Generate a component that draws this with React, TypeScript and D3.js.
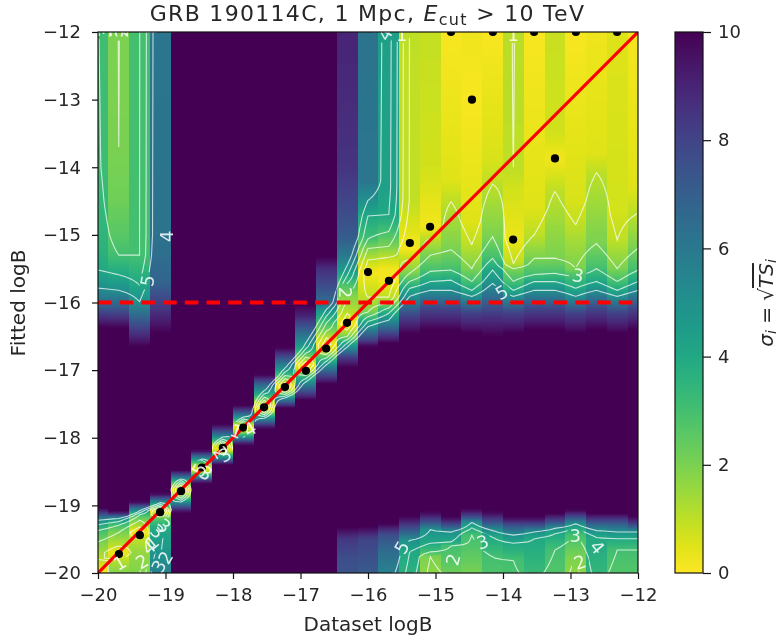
import React, { useEffect, useRef } from "react";
import * as d3 from "d3";

type Knot = [number, number];

// sigma along Fitted logB for each Dataset logB column
const col00: Knot[] = [[-12,3.05],[-14,3.15],[-15,3.5],[-15.25,3.6],[-15.52,4],[-15.79,5],[-16,6.5],[-16.2,8.5],[-16.37,10],[-19.05,10],[-19.22,5],[-19.29,4],[-19.37,3],[-19.54,2],[-19.8,1],[-20,0.1]];
const col01: Knot[] = [[-12,1.97],[-13.7,2],[-14.5,2.2],[-15,2.6],[-15.3,3],[-15.59,4],[-15.82,5],[-16.05,7],[-16.37,10],[-19.1,10],[-19.19,5],[-19.24,4],[-19.29,3],[-19.4,2],[-19.6,1],[-19.7,0.15],[-19.8,1],[-19.95,1.7],[-20,1.8]];
const col02: Knot[] = [[-12,2.97],[-15.3,3],[-15.74,4],[-15.99,5],[-16.3,7.5],[-16.65,10],[-18.95,10],[-19.05,6],[-19.08,5],[-19.11,4],[-19.14,3],[-19.22,2],[-19.32,1],[-19.4,0.15],[-19.5,1],[-19.7,1.6],[-20,1.9]];
const col03: Knot[] = [[-12,6.1],[-15,6.2],[-15.7,6.8],[-16.1,8.5],[-16.45,10],[-18.83,10],[-18.92,6.5],[-18.96,5],[-18.99,4],[-19.01,3],[-19.04,2],[-19.05,1],[-19.08,0.15],[-19.13,1],[-19.17,2],[-19.22,3],[-19.35,4],[-19.7,4.8],[-20,5.6]];
const col04: Knot[] = [[-18.48,10],[-18.58,6.5],[-18.63,4],[-18.68,2.5],[-18.73,1],[-18.77,0.15],[-18.82,1],[-18.88,2.5],[-18.95,5],[-19.02,7.5],[-19.1,10]];
const col05: Knot[] = [[-18.19,10],[-18.29,6],[-18.35,3.5],[-18.42,1.2],[-18.46,0.15],[-18.5,1],[-18.54,3],[-18.6,6.5],[-18.66,10]];
const col06: Knot[] = [[-17.81,10],[-17.93,7],[-18.02,4],[-18.1,1.2],[-18.15,0.15],[-18.2,1],[-18.26,3.5],[-18.33,7],[-18.4,10]];
const col07: Knot[] = [[-17.53,10],[-17.65,6.5],[-17.75,3],[-17.8,1.2],[-17.85,0.15],[-17.9,1],[-17.96,3.5],[-18.03,7],[-18.1,10]];
const col08: Knot[] = [[-17.07,10],[-17.2,7],[-17.33,4.5],[-17.4,3],[-17.48,1.2],[-17.54,0.15],[-17.6,1],[-17.66,3],[-17.75,6.5],[-17.86,10]];
const col09: Knot[] = [[-16.67,10],[-16.85,7],[-17,4.5],[-17.08,3],[-17.16,1.3],[-17.23,0.15],[-17.3,1],[-17.36,3],[-17.45,6.5],[-17.56,10]];
const col10: Knot[] = [[-16.04,10],[-16.2,9],[-16.45,6.5],[-16.65,4.5],[-16.75,3],[-16.85,1.3],[-16.92,0.15],[-17,1],[-17.08,3],[-17.2,5.5],[-17.44,10]];
const col11: Knot[] = [[-15.34,10],[-15.5,8.7],[-15.8,7.5],[-16,6.5],[-16.1,5],[-16.2,4],[-16.3,3],[-16.42,2],[-16.52,1],[-16.62,0.15],[-16.72,1],[-16.82,3],[-16.92,5],[-17.05,7.5],[-17.2,10]];
const col12: Knot[] = [[-12,9],[-13,8.8],[-14,8.5],[-14.6,7.8],[-15,7.2],[-15.3,6],[-15.45,5],[-15.6,4],[-15.72,3],[-15.87,2],[-16.16,1],[-16.31,0.1],[-16.41,1],[-16.5,2],[-16.55,3],[-16.6,4],[-16.66,5],[-16.8,8],[-16.95,10],[-19.33,10],[-19.5,8.4],[-19.8,7.6],[-20,7.5]];
const col13: Knot[] = [[-12,6.2],[-14.2,6.1],[-14.49,5],[-14.72,4],[-15.06,3],[-15.2,2],[-15.37,1],[-15.55,0.15],[-15.92,1],[-16.14,2],[-16.21,3],[-16.28,4],[-16.36,5],[-16.55,8],[-16.65,10],[-19.32,10],[-19.5,8],[-20,7.2]];
const col14: Knot[] = [[-12,4.4],[-14.3,4.3],[-14.7,4],[-14.95,3],[-15.17,2],[-15.33,1],[-15.5,0.2],[-15.67,0.15],[-15.92,1],[-16.01,2],[-16.08,3],[-16.16,4],[-16.26,5],[-16.46,8],[-16.6,10],[-19.27,10],[-19.45,7.5],[-19.7,6.4],[-20,5.6]];
const col15: Knot[] = [[-12,0.98],[-14.5,0.95],[-15,0.4],[-15.2,0.15],[-15.37,1],[-15.57,2],[-15.69,3],[-15.79,4],[-15.91,5],[-16.2,8],[-16.45,10],[-19.17,10],[-19.35,7.5],[-19.52,5],[-19.69,4],[-20,3.6]];
const col16: Knot[] = [[-12,0.9],[-14,0.7],[-14.88,0.2],[-15.05,1],[-15.3,2],[-15.54,3],[-15.69,4],[-15.82,5],[-16.1,8],[-16.4,10],[-19.1,10],[-19.25,7.5],[-19.36,5],[-19.56,4],[-19.69,3],[-19.76,2],[-20,1.7]];
const col17: Knot[] = [[-12,0.1],[-14.2,0.5],[-14.51,1],[-15.22,2],[-15.52,3],[-15.67,4],[-15.82,5],[-16.1,8],[-16.4,10],[-19.18,10],[-19.3,7.5],[-19.39,5],[-19.54,4],[-19.6,3],[-20,2.25]];
const col18: Knot[] = [[-12,0.25],[-13,0.1],[-14.8,0.5],[-15.15,1],[-15.5,2],[-15.69,3],[-15.82,4],[-15.91,5],[-16.15,8],[-16.45,10],[-19.06,10],[-19.18,7.5],[-19.25,5],[-19.33,4],[-19.44,3],[-20,2.05]];
const col19: Knot[] = [[-12,0.1],[-13.9,0.6],[-14.25,1],[-15.03,2],[-15.35,3],[-15.52,4],[-15.72,5],[-16.2,8.5],[-16.5,10],[-19.1,10],[-19.25,7.5],[-19.37,5],[-19.47,4],[-19.76,3],[-20,2.8]];
const col20: Knot[] = [[-12,1.05],[-14,1],[-14.3,0.7],[-15.07,0.3],[-15.43,1],[-15.5,2],[-15.69,3],[-15.82,4],[-15.91,5],[-16.15,8],[-16.45,10],[-19.18,10],[-19.3,7.5],[-19.44,5],[-19.56,4],[-19.81,3],[-20,2.9]];
const col21: Knot[] = [[-12,0.1],[-14.6,0.5],[-15,1],[-15.35,2],[-15.59,3],[-15.69,4],[-15.82,5],[-16.1,8],[-16.4,10],[-19.18,10],[-19.3,7.5],[-19.39,5],[-19.49,4],[-20,3.25]];
const col22: Knot[] = [[-12,0.85],[-13.5,0.7],[-13.87,0.2],[-14.36,1],[-15.35,2],[-15.57,3],[-15.69,4],[-15.82,5],[-16.1,8],[-16.4,10],[-19.12,10],[-19.25,7.5],[-19.34,5],[-19.42,4],[-19.66,3],[-20,2.7]];
const col23: Knot[] = [[-12,0.1],[-14.5,0.6],[-14.85,1],[-15.5,2],[-15.62,3],[-15.79,4],[-15.91,5],[-16.15,8],[-16.45,10],[-19.07,10],[-19.18,7.5],[-19.27,5],[-19.34,4],[-19.44,3],[-19.76,2],[-20,1.7]];
const col24: Knot[] = [[-12,0.25],[-13.8,0.5],[-14.08,1],[-15.13,2],[-15.5,3],[-15.69,4],[-15.82,5],[-16.1,8],[-16.4,10],[-19.12,10],[-19.25,7.5],[-19.37,5],[-19.47,4],[-20,3.4]];
const col25: Knot[] = [[-12,0.5],[-14.7,0.7],[-15.08,1],[-15.5,2],[-15.69,3],[-15.82,4],[-15.91,5],[-16.15,8],[-16.45,10],[-19.12,10],[-19.25,7.5],[-19.39,5],[-19.49,4],[-19.66,3],[-20,2.7]];
const col26: Knot[] = [[-12,0.15],[-14.3,0.5],[-14.68,1],[-15.2,2],[-15.52,3],[-15.69,4],[-15.82,5],[-16.1,8],[-16.4,10],[-19.17,10],[-19.3,7.5],[-19.39,5],[-19.49,4],[-19.66,3],[-20,2.7]];

const columns = [col00,col01,col02,col03,col04,col05,col06,col07,col08,col09,col10,col11,col12,col13,col14,col15,col16,col17,col18,col19,col20,col21,col22,col23,col24,col25,col26];

const datasetLogB = [-20,-19.69,-19.38,-19.08,-18.77,-18.46,-18.15,-17.85,-17.54,-17.23,-16.92,-16.62,-16.31,-16,-15.69,-15.38,-15.08,-14.77,-14.46,-14.15,-13.85,-13.54,-13.23,-12.92,-12.62,-12.31,-12];

const fitX = [-19.69,-19.38,-19.08,-18.77,-18.46,-18.15,-17.85,-17.54,-17.23,-16.92,-16.62,-16.31,-16,-15.69,-15.38,-15.08,-14.77,-14.46,-14.15,-13.85,-13.54,-13.23,-12.92,-12.31];
const fitY = [-19.72,-19.44,-19.1,-18.79,-18.44,-18.15,-17.85,-17.55,-17.25,-17.01,-16.68,-16.3,-15.55,-15.68,-15.12,-14.88,-12,-13,-12,-15.07,-12,-13.87,-12,-12];

const labelText = ["5","4","3","5","5","2","3","3","2","4","2","4","1","1","3","3","2","5","3","2","3","1","4","3","3","1","2","1","4","3","2"];
const labelX = [-19.27,-18.98,-12.89,-14.02,-15.5,-14.74,-14.3,-12.93,-12.86,-12.6,-16.34,-15.75,-15.5,-13.85,-19.9,-19.73,-19.65,-18.5,-18.4,-18.18,-18.12,-17.95,-17.75,-19.02,-19.12,-19.68,-19.35,-19.2,-19.25,-19.1,-19.0];
const labelY = [-15.68,-15.02,-15.6,-15.85,-19.62,-19.8,-19.54,-19.44,-19.84,-19.62,-15.85,-12.03,-12.03,-12.03,-12,-12,-12,-18.47,-18.52,-18.22,-18.25,-17.9,-17.87,-19.3,-19.38,-19.85,-19.83,-19.55,-19.62,-19.9,-19.77];
const labelRot = [-80,-90,10,-30,-60,-75,-20,0,-20,50,90,-60,0,0,-90,-90,-90,-60,30,60,-30,20,-30,40,40,-30,-30,-40,-40,-60,-60];

const levels = [1, 2, 3, 4, 5];
const xTicks = [-20,-19,-18,-17,-16,-15,-14,-13,-12];
const yTicks = [-20,-19,-18,-17,-16,-15,-14,-13,-12];
const cbTicks = [0,2,4,6,8,10];

const W = 779, H = 643;
const L = 98, R = 638, T = 32, B = 573;
const CL = 675, CR = 703;
const FONT = "'DejaVu Sans', sans-serif";
const INK = "#262626";

const x = d3.scaleLinear().domain([-20, -12]).range([L, R]);
const y = d3.scaleLinear().domain([-12, -20]).range([T, B]);
const cb = d3.scaleLinear().domain([10, 0]).range([T, B]);
const color = (v: number) => d3.interpolateViridis(1 - Math.min(10, Math.max(0, v)) / 10);

const STEP = 8 / 26;
const NY = 401;
const rowY = d3.range(NY).map((j) => -12 - (j * 8) / (NY - 1));
const profiles = columns.map((k) =>
  d3.scaleLinear().domain(k.map((d) => d[0])).range(k.map((d) => d[1])).clamp(true)
);
const grid: number[] = [];
rowY.forEach((ry) => profiles.forEach((p) => grid.push(p(ry))));

const contourGen = d3.contours().size([columns.length, NY]).thresholds(levels);
const contourPath = d3.geoPath(
  d3.geoTransform({
    point(gx: number, gy: number) {
      (this as any).stream.point(x(-20 + (gx - 0.5) * STEP), y(-12 - ((gy - 0.5) * 8) / (NY - 1)));
    },
  })
);
const contourLines = contourGen(grid);

export default function App() {
  const xRef = useRef<SVGGElement>(null);
  const yRef = useRef<SVGGElement>(null);
  const cRef = useRef<SVGGElement>(null);

  useEffect(() => {
    const style = (g: any) => {
      g.selectAll("text").attr("font-family", FONT).attr("font-size", 18).attr("fill", INK);
      g.selectAll("line").attr("stroke", "#111").attr("stroke-width", 1.2);
      g.select(".domain").remove();
    };
    d3.select(xRef.current!).call(d3.axisBottom(x).tickValues(xTicks).tickSize(6).tickPadding(9).tickFormat(d3.format("d")) as any).call(style);
    d3.select(yRef.current!).call(d3.axisLeft(y).tickValues(yTicks).tickSize(6).tickPadding(11).tickFormat(d3.format("d")) as any).call(style);
    d3.select(cRef.current!).call(d3.axisRight(cb).tickValues(cbTicks).tickSize(8).tickPadding(7).tickFormat(d3.format("d")) as any).call(style);
  }, []);

  return (
    <svg
      width={W}
      height={H}
      viewBox={`0 0 ${W} ${H}`}
      style={{ position: "absolute", left: 0, top: 0, filter: "blur(0.5px)" }}
    >
      <defs>
        <clipPath id="plot">
          <rect x={L} y={T} width={R - L} height={B - T} />
        </clipPath>
        {columns.map((_, i) => (
          <linearGradient key={i} id={`c${i}`} gradientUnits="userSpaceOnUse" x1={0} x2={0} y1={T} y2={B}>
            {rowY.filter((_, j) => j % 2 === 0).map((ry, j) => (
              <stop key={j} offset={(j * 2) / (NY - 1)} stopColor={color(profiles[i](ry))} />
            ))}
          </linearGradient>
        ))}
        <linearGradient id="cbar" x1={0} x2={0} y1={0} y2={1}>
          {d3.range(0, 1.001, 0.05).map((t) => (
            <stop key={t} offset={t} stopColor={d3.interpolateViridis(t)} />
          ))}
        </linearGradient>
        <mask id="gaps" maskUnits="userSpaceOnUse" x={0} y={0} width={W} height={H}>
          <rect x={0} y={0} width={W} height={H} fill="#fff" />
          {labelX.map((lx, i) => (
            <circle key={i} cx={x(lx)} cy={y(labelY[i])} r={9} fill="#000" />
          ))}
        </mask>
      </defs>

      <rect x={0} y={0} width={W} height={H} fill="#fff" />

      <g clipPath="url(#plot)">
        {datasetLogB.map((c, i) => {
          const x0 = Math.round(x(-20 + (i - 0.5) * STEP));
          const x1 = Math.round(x(-20 + (i + 0.5) * STEP));
          return (
            <rect key={i} x={x0} y={T} width={x1 - x0} height={B - T} fill={`url(#c${i})`} shapeRendering="crispEdges" />
          );
        })}
        <g mask="url(#gaps)">
          {contourLines.map((c, i) => (
            <path key={i} d={contourPath(c as any) ?? ""} fill="none" stroke="#fff" strokeOpacity={0.72} strokeWidth={1.1} />
          ))}
        </g>
        <line x1={x(-20)} x2={x(-12)} y1={y(-20)} y2={y(-12)} stroke="#f00" strokeWidth={3.2} />
        <line x1={x(-20)} x2={x(-12)} y1={y(-16)} y2={y(-16)} stroke="#f00" strokeWidth={3.8} strokeDasharray="13.5 8.2" />
        {fitX.map((fx, i) => (
          <circle key={i} cx={x(fx)} cy={y(fitY[i])} r={4.1} fill="#000" />
        ))}
        {labelX.map((lx, i) => (
          <text
            key={i}
            transform={`translate(${x(lx)},${y(labelY[i])}) rotate(${labelRot[i]})`}
            textAnchor="middle"
            dominantBaseline="central"
            fontFamily={FONT}
            fontSize={18}
            fill="#fff"
            fillOpacity={0.85}
          >
            {labelText[i]}
          </text>
        ))}
      </g>

      <rect x={L} y={T} width={R - L} height={B - T} fill="none" stroke="#111" strokeWidth={1.2} />
      <g ref={xRef} transform={`translate(0,${B})`} />
      <g ref={yRef} transform={`translate(${L},0)`} />

      <rect x={CL} y={T} width={CR - CL} height={B - T} fill="url(#cbar)" stroke="#111" strokeWidth={1.2} />
      <g ref={cRef} transform={`translate(${CR},0)`} />

      <text x={367.5} y={21} textAnchor="middle" fontFamily={FONT} fontSize={22} letterSpacing={1.3} fill={INK}>
        GRB 190114C, 1 Mpc, <tspan fontStyle="italic">E</tspan>
        <tspan fontSize={16} dy={4}>cut</tspan>
        <tspan dy={-4}> &gt; 10 TeV</tspan>
      </text>
      <text x={368} y={631} textAnchor="middle" fontFamily={FONT} fontSize={20} fill={INK}>
        Dataset logB
      </text>
      <text transform="translate(25,303) rotate(-90)" textAnchor="middle" fontFamily={FONT} fontSize={20} fill={INK}>
        Fitted logB
      </text>
      <text transform="translate(773,303) rotate(-90)" textAnchor="middle" fontFamily={FONT} fontSize={20} fill={INK}>
        <tspan fontStyle="italic">σ</tspan>
        <tspan fontSize={14} fontStyle="italic" dy={3}>i</tspan>
        <tspan dy={-3}> = √</tspan>
        <tspan fontStyle="italic" textDecoration="overline">TS</tspan>
        <tspan fontSize={14} fontStyle="italic" dy={3}>i</tspan>
      </text>
    </svg>
  );
}
